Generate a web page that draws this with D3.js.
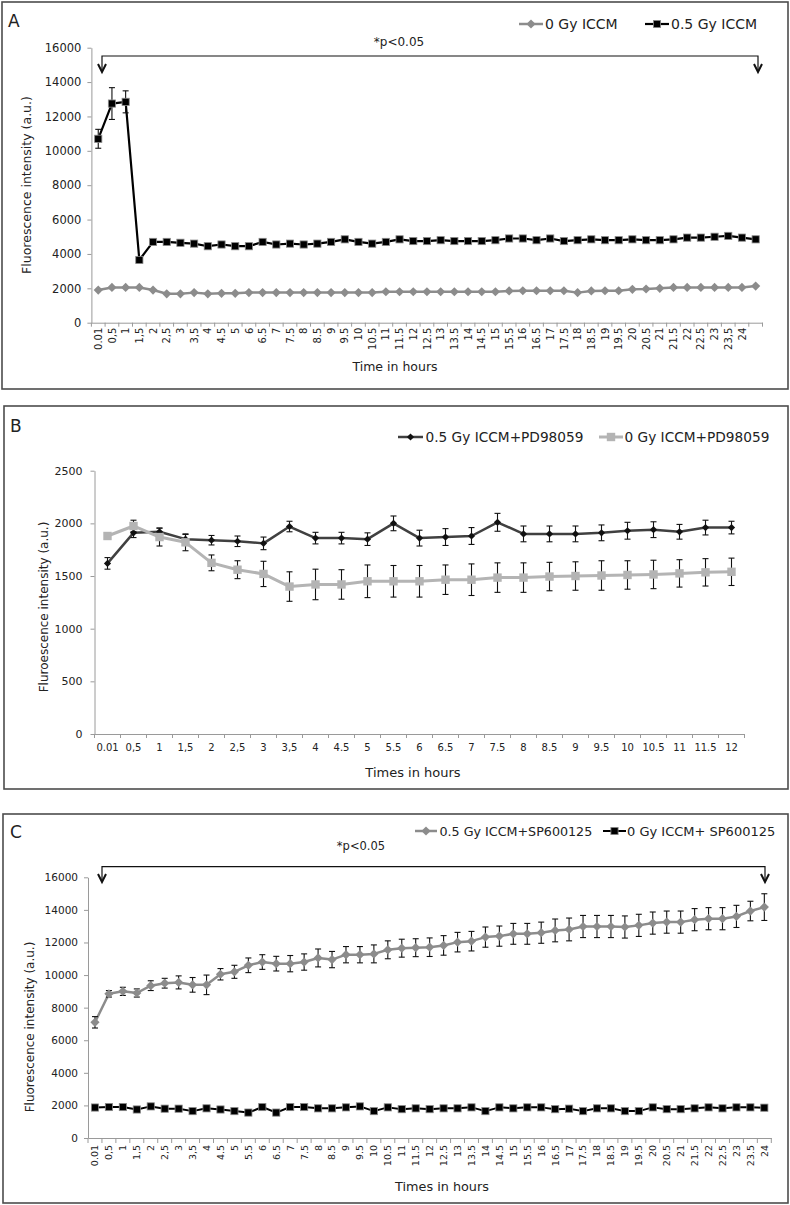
<!DOCTYPE html>
<html><head><meta charset="utf-8">
<script src="https://cdn.jsdelivr.net/npm/d3@7"></script>
<style>
body{margin:0;background:#fff}
svg text{font-family:"DejaVu Sans",sans-serif;fill:#222}
</style>
</head><body>
<svg id="c" width="790" height="1205"></svg>
<script>
// ---------------- DATA ----------------
// Panel A
const timesA = ["0.01","0,5","1","1,5","2","2,5","3","3,5","4","4.5","5","6","6.5","7","7.5","8","8.5","9","9.5","10","10.5","11","11.5","12","12.5","13","13.5","14","14.5","15","15.5","16","16.5","17","17.5","18","18.5","19","19.5","20","20.5","21","21.5","22","22.5","23","23,5","24"," "];
const a0Gy  = [1900,2050,2050,2050,1900,1680,1680,1750,1680,1710,1710,1750,1750,1750,1750,1750,1750,1750,1750,1750,1750,1800,1800,1800,1800,1800,1800,1800,1800,1800,1850,1860,1860,1860,1860,1750,1850,1860,1860,1940,1960,2000,2050,2050,2050,2050,2050,2050,2130];
const a05Gy = [10700,12750,12850,3650,4700,4700,4650,4600,4450,4550,4450,4450,4700,4550,4600,4550,4600,4700,4850,4700,4600,4700,4850,4750,4750,4800,4750,4750,4750,4800,4900,4900,4800,4900,4750,4800,4850,4800,4800,4850,4800,4800,4850,4950,4950,5000,5050,4950,4850];
const a05Err = [550,925,640,100,100,100,100,100,100,100,100,100,100,100,100,100,100,100,100,100,100,100,100,100,100,100,100,100,100,100,100,100,100,100,100,100,100,100,100,100,100,100,100,100,100,100,100,100,100];
const ticksA = [0,2000,4000,6000,8000,10000,12000,14000,16000];

// Panel B
const timesB = ["0.01","0,5","1","1,5","2","2,5","3","3,5","4","4.5","5","5.5","6","6.5","7","7.5","8","8.5","9","9.5","10","10.5","11","11.5","12"];
const b05PD  = [1620,1910,1920,1850,1840,1830,1810,1970,1860,1860,1850,2000,1860,1870,1880,2010,1900,1900,1900,1910,1930,1940,1920,1960,1960];
const b05Err = [55,45,35,45,45,50,60,50,55,55,60,70,75,80,80,85,75,75,75,75,80,75,70,70,60];
const b0PD   = [1880,1975,1870,1820,1625,1560,1520,1400,1420,1420,1450,1450,1450,1465,1465,1485,1485,1495,1500,1505,1510,1515,1525,1535,1540];
const b0Err  = [30,55,85,80,75,85,120,140,145,140,155,150,150,140,150,140,140,135,135,140,135,135,130,130,130];
const ticksB = [0,500,1000,1500,2000,2500];

// Panel C
const timesC = ["0.01","0,5","1","1,5","2","2,5","3","3,5","4","4.5","5","5.5","6","6.5","7","7.5","8","8.5","9","9.5","10","10.5","11","11.5","12","12.5","13","13.5","14","14.5","15","15.5","16","16.5","17","17.5","18","18.5","19","19.5","20","20.5","21","21.5","22","22.5","23","23.5","24"];
const c05SP  = [7100,8850,9000,8900,9350,9500,9550,9400,9400,10050,10200,10600,10800,10700,10700,10800,11050,10950,11250,11250,11300,11550,11650,11680,11710,11820,12020,12080,12330,12390,12530,12530,12600,12740,12800,12980,12980,12980,12950,13050,13190,13250,13250,13400,13460,13460,13600,13930,14170];
const c05Err = [350,200,250,250,300,300,400,450,600,350,400,450,450,450,500,500,550,500,500,500,550,550,550,550,570,600,600,600,620,620,640,640,650,700,700,680,680,680,680,680,680,680,680,680,680,680,680,600,820];
const c0SP   = [1870,1900,1900,1750,1940,1800,1800,1650,1820,1750,1650,1560,1900,1560,1900,1900,1820,1820,1880,1940,1650,1880,1770,1820,1770,1820,1820,1880,1650,1880,1820,1880,1880,1770,1800,1650,1820,1820,1650,1650,1880,1770,1770,1820,1880,1820,1880,1880,1860];
const ticksC = [0,2000,4000,6000,8000,10000,12000,14000,16000];

// ---------------- DRAW ----------------
const svg = d3.select("#c");
const AXIS = "#9a9a9a";

function frame(x, y, w, h) {
  svg.append("rect").attr("x", x).attr("y", y).attr("width", w).attr("height", h)
    .attr("fill", "none").attr("stroke", "#4d4d4d").attr("stroke-width", 1.6);
}

function marker(g, type, cx, cy, s, fill, stroke) {
  if (type === "diamond") {
    g.append("path").attr("d", `M${cx},${cy - s}L${cx + s},${cy}L${cx},${cy + s}L${cx - s},${cy}Z`)
      .attr("fill", fill).attr("stroke", stroke || "none").attr("stroke-width", 0.8);
  } else {
    g.append("rect").attr("x", cx - s).attr("y", cy - s).attr("width", 2 * s).attr("height", 2 * s)
      .attr("fill", fill).attr("stroke", stroke || "none").attr("stroke-width", 0.8);
  }
}

function panel(cfg) {
  const g = svg.append("g");
  const x = d3.scaleBand().domain(cfg.cats).range([cfg.x0, cfg.x1]).padding(0);
  const y = d3.scaleLinear().domain([0, cfg.ymax]).range([cfg.yb, cfg.yt]);
  const bw = x.bandwidth();
  const cx = c => x(c) + bw / 2;

  // y axis
  const gy = g.append("g").attr("transform", `translate(${cfg.x0},0)`)
    .call(d3.axisLeft(y).tickValues(cfg.yticks).tickSize(4).tickSizeOuter(0).tickPadding(cfg.ypad).tickFormat(d3.format("d")));
  gy.select(".domain").attr("stroke", AXIS);
  gy.selectAll(".tick line").attr("stroke", AXIS);
  gy.selectAll(".tick text").style("font-size", cfg.yfs + "px").style("font-family", '"DejaVu Sans",sans-serif').attr("fill", "#222");

  // x axis
  const gx = g.append("g").attr("transform", `translate(0,${cfg.yb})`)
    .call(d3.axisBottom(x).tickSize(0).tickSizeOuter(0));
  gx.select(".domain").attr("stroke", AXIS);
  gx.selectAll(".tick text").style("font-size", cfg.xfs + "px").style("font-family", '"DejaVu Sans",sans-serif').attr("fill", "#222");
  if (cfg.rot) {
    gx.selectAll(".tick text").attr("y", 0).attr("x", -cfg.xoff).attr("dy", "0.36em")
      .attr("transform", "rotate(-90)").style("text-anchor", "end");
  } else {
    gx.selectAll(".tick text").attr("y", cfg.xoff).attr("dy", "0.71em");
  }
  const bounds = cfg.cats.map(c => x(c)).concat([cfg.x1]);
  gx.selectAll("line.bt").data(bounds).enter().append("line").attr("class", "bt")
    .attr("x1", d => d).attr("x2", d => d).attr("y1", 0).attr("y2", cfg.xtick).attr("stroke", AXIS);

  // series
  cfg.series.forEach(s => {
    const pts = cfg.cats.map((c, i) => ({ c, v: s.values[i], e: s.err ? s.err[i] : 0 }));
    g.append("path").datum(pts)
      .attr("d", d3.line().x(d => cx(d.c)).y(d => y(d.v)))
      .attr("fill", "none").attr("stroke", s.lineColor).attr("stroke-width", s.lw).attr("stroke-linejoin", "round");
    if (s.err) {
      const eb = g.append("g").attr("stroke", "#111").attr("stroke-width", 1.1);
      pts.forEach(d => {
        const px = cx(d.c);
        eb.append("line").attr("x1", px).attr("x2", px).attr("y1", y(d.v - d.e)).attr("y2", y(d.v + d.e));
        eb.append("line").attr("x1", px - 3).attr("x2", px + 3).attr("y1", y(d.v - d.e)).attr("y2", y(d.v - d.e));
        eb.append("line").attr("x1", px - 3).attr("x2", px + 3).attr("y1", y(d.v + d.e)).attr("y2", y(d.v + d.e));
      });
    }
    const mg = g.append("g");
    pts.forEach(d => marker(mg, s.marker, cx(d.c), y(d.v), s.ms, s.fill, s.mstroke));
  });

  // titles
  g.append("text").attr("transform", `translate(${cfg.ytx},${cfg.yty}) rotate(-90)`)
    .attr("text-anchor", "middle").style("font-size", cfg.ytfs + "px").text(cfg.ytitle);
  g.append("text").attr("x", cfg.xtx).attr("y", cfg.xty).attr("text-anchor", "middle")
    .style("font-size", cfg.xtfs + "px").text(cfg.xtitle);
  g.append("text").attr("x", cfg.lx).attr("y", cfg.ly).style("font-size", "17px").attr("fill", "#333").text(cfg.letter);

  // legend
  cfg.legend.forEach(l => {
    const s = l.s;
    g.append("line").attr("x1", l.x1).attr("x2", l.x2).attr("y1", l.y).attr("y2", l.y)
      .attr("stroke", s.lineColor).attr("stroke-width", s.lw);
    marker(g, s.marker, (l.x1 + l.x2) / 2, l.y, s.ms, s.fill, s.mstroke);
    g.append("text").attr("x", l.tx).attr("y", l.y + l.fs * 0.37).style("font-size", l.fs + "px").text(l.text);
  });

  // significance bracket
  if (cfg.bracket) {
    const b = cfg.bracket;
    g.append("text").attr("x", b.tx).attr("y", b.ty).attr("text-anchor", "middle").style("font-size", b.fs + "px").text("*p<0.05");
    const p = `M${b.xa},${b.tip}L${b.xa},${b.y}L${b.xb},${b.y}L${b.xb},${b.tip}`;
    g.append("path").attr("d", p).attr("fill", "none").attr("stroke", "#111").attr("stroke-width", 1.2);
    [b.xa, b.xb].forEach(ax => {
      g.append("path").attr("d", `M${ax - 4},${b.tip - 8}L${ax},${b.tip}L${ax + 4},${b.tip - 8}`)
        .attr("fill", "none").attr("stroke", "#111").attr("stroke-width", 2);
    });
  }
}

// frames
frame(2, 2, 786, 387);
frame(4, 406, 784, 383);
frame(3, 814, 785, 389);

// Panel A
const sA0 = { values: a0Gy, lineColor: "#8c8c8c", lw: 2.5, marker: "diamond", ms: 4.6, fill: "#8c8c8c" };
const sA5 = { values: a05Gy, err: a05Err, lineColor: "#000", lw: 2.2, marker: "square", ms: 3.6, fill: "#000", mstroke: "#8a8a8a" };
panel({
  cats: timesA, x0: 91.4, x1: 762.5, yb: 322.7, yt: 47.7, ymax: 16000, yticks: ticksA,
  ypad: 6, yfs: 11.5, xfs: 10, rot: true, xoff: 5, xtick: 4,
  series: [sA0, sA5],
  ytitle: "Fluorescence intensity (a.u.)", ytx: 31, yty: 185, ytfs: 12.5,
  xtitle: "Time in hours", xtx: 395, xty: 371, xtfs: 12.5,
  letter: "A", lx: 8, ly: 27,
  legend: [
    { s: sA0, x1: 519, x2: 543, y: 24, tx: 545, fs: 14, text: "0 Gy ICCM" },
    { s: sA5, x1: 645, x2: 669, y: 24, tx: 671, fs: 14, text: "0.5 Gy ICCM" }
  ],
  bracket: { tx: 399, ty: 46, fs: 12, xa: 102, xb: 758, y: 56, tip: 72 }
});

// Panel B
const sB5 = { values: b05PD, err: b05Err, lineColor: "#404040", lw: 2.5, marker: "diamond", ms: 3.6, fill: "#111" };
const sB0 = { values: b0PD, err: b0Err, lineColor: "#b4b4b4", lw: 3, marker: "square", ms: 4.2, fill: "#b4b4b4" };
panel({
  cats: timesB, x0: 94.5, x1: 744.5, yb: 734, yt: 470.7, ymax: 2500, yticks: ticksB,
  ypad: 8, yfs: 11, xfs: 10, rot: false, xoff: 10, xtick: 4,
  series: [sB5, sB0],
  ytitle: "Fluroescence intensity (a.u.)", ytx: 48, yty: 607, ytfs: 12,
  xtitle: "Times in hours", xtx: 413, xty: 777, xtfs: 13,
  letter: "B", lx: 10, ly: 432,
  legend: [
    { s: sB5, x1: 398, x2: 423, y: 437, tx: 425.5, fs: 13.7, text: "0.5 Gy ICCM+PD98059" },
    { s: sB0, x1: 599, x2: 623, y: 437, tx: 624.5, fs: 13.7, text: "0 Gy ICCM+PD98059" }
  ]
});

// Panel C
const sC5 = { values: c05SP, err: c05Err, lineColor: "#8c8c8c", lw: 2.5, marker: "diamond", ms: 4.6, fill: "#8c8c8c" };
const sC0 = { values: c0SP, lineColor: "#000", lw: 2, marker: "square", ms: 3.6, fill: "#000", mstroke: "#8a8a8a" };
panel({
  cats: timesC, x0: 88, x1: 771.3, yb: 1138, yt: 877.3, ymax: 16000, yticks: ticksC,
  ypad: 6, yfs: 10.5, xfs: 9.5, rot: true, xoff: 7, xtick: 5,
  series: [sC5, sC0],
  ytitle: "Fluorescence intensity (a.u.)", ytx: 34, yty: 1027, ytfs: 12,
  xtitle: "Times in hours", xtx: 442, xty: 1191, xtfs: 12.8,
  letter: "C", lx: 10, ly: 838,
  legend: [
    { s: sC5, x1: 415, x2: 437, y: 831, tx: 439.5, fs: 12.7, text: "0.5 Gy ICCM+SP600125" },
    { s: sC0, x1: 603, x2: 626, y: 831, tx: 627, fs: 13, text: "0 Gy ICCM+ SP600125" }
  ],
  bracket: { tx: 361, ty: 850, fs: 11.5, xa: 102, xb: 765, y: 866.7, tip: 882 }
});
</script>
</body></html>
